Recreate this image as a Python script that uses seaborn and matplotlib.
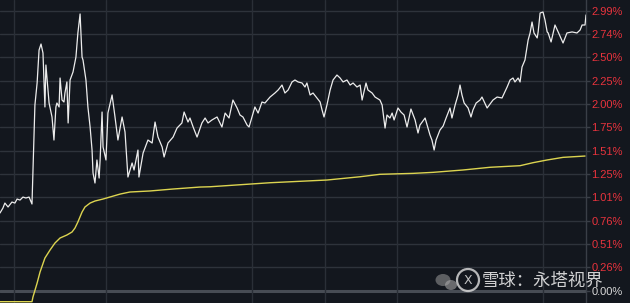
import matplotlib
matplotlib.use("Agg")
import matplotlib.pyplot as plt
from matplotlib.patches import Ellipse
import numpy as np
import pandas as pd
import seaborn as sns

# ---- data (minutes since chart start, % change) ----
price_t = [0, 1.2, 2.0, 3.3, 4.9, 6.1, 7.0, 8.2, 9.4, 10.6, 11.9, 13.1, 13.9, 14.3, 15.2, 16.0,
           16.8, 17.6, 18.0, 18.4, 18.8, 19.3, 20.1, 21.3, 22.1, 22.9, 23.3, 24.2, 24.6, 25.4,
           26.2, 26.6, 27.4, 27.9, 28.7, 29.9, 31.1, 31.9, 32.8, 33.6, 34.0, 35.2, 36.0, 36.9,
           37.7, 38.1, 38.9, 39.7, 40.6, 41.0, 41.8, 42.2, 43.4, 44.2, 45.9, 47.1, 48.3, 50.0,
           51.2, 52.4, 54.1, 54.9, 56.5, 56.9, 58.6, 60.6, 62.3, 63.5, 64.7, 66.4, 67.2, 68.8,
           70.9, 72.5, 74.5, 75.4, 77.0, 77.8, 79.1, 80.7, 82.7, 84.0, 85.2, 86.8, 88.9, 90.9,
           92.2, 93.8, 95.4, 97.1, 98.3, 99.5, 101.2, 102.0, 103.2, 104.4, 105.7, 107.3, 108.5,
           110.6, 112.6, 113.9, 115.5, 116.7, 118.0, 119.6, 120.8, 122.1, 123.7, 124.9, 125.7,
           127.0, 128.2, 129.8, 131.1, 131.9, 132.7, 133.9, 135.2, 136.4, 138.0, 139.3, 140.5,
           142.1, 143.4, 144.6, 146.2, 147.5, 148.3, 149.9, 150.7, 152.4, 153.6, 155.6, 156.5,
           157.7, 158.5, 159.7, 160.6, 161.4, 163.0, 164.2, 165.5, 166.7, 168.3, 170.0, 171.2,
           172.0, 172.9, 174.1, 175.3, 176.1, 176.9, 177.8, 178.6, 179.4, 180.2, 181.5, 182.7,
           184.3, 185.1, 186.4, 187.6, 188.4, 189.2, 190.1, 191.7, 192.9, 193.7, 195.0, 196.6,
           197.4, 199.5, 201.9, 203.6, 205.6, 207.7, 208.9, 210.1, 210.9, 212.2, 213.0, 213.8,
           215.0, 216.3, 217.1, 217.9, 218.7, 220.0, 220.4, 221.2, 222.4, 223.2, 224.1, 224.5,
           225.7, 227.3, 228.6, 230.6, 232.2, 234.3, 236.3, 237.6, 238.4, 239.6, 240.0]
price_pct = [0.830, 0.883, 0.936, 0.894, 0.947, 0.936, 0.979, 0.968, 1.000, 0.990, 1.000, 0.926,
             1.609, 1.983, 2.218, 2.570, 2.634, 2.538, 2.250, 1.962, 2.410, 2.250, 2.004, 1.855,
             1.609, 1.962, 2.004, 1.962, 2.271, 2.036, 2.015, 2.111, 2.229, 1.791, 2.250, 2.335,
             2.495, 2.752, 2.955, 2.495, 2.463, 2.250, 1.962, 1.748, 1.502, 1.257, 1.150, 1.396,
             1.203, 1.396, 1.908, 1.535, 1.396, 1.897, 2.090, 1.855, 1.609, 1.855, 1.695, 1.214,
             1.364, 1.289, 1.502, 1.214, 1.470, 1.609, 1.577, 1.801, 1.641, 1.535, 1.428, 1.577,
             1.641, 1.737, 1.791, 1.908, 1.801, 1.844, 1.748, 1.641, 1.791, 1.844, 1.791, 1.823,
             1.855, 1.748, 1.897, 1.844, 2.036, 1.951, 1.876, 1.855, 1.769, 1.748, 1.855, 1.962,
             1.897, 2.015, 2.004, 2.068, 2.111, 2.143, 2.196, 2.111, 2.143, 2.229, 2.250, 2.229,
             2.218, 2.175, 2.218, 2.090, 2.111, 2.058, 2.015, 1.930, 1.855, 1.983, 2.143, 2.250,
             2.303, 2.271, 2.229, 2.250, 2.196, 2.218, 2.175, 2.196, 2.036, 2.218, 2.143, 2.111,
             2.068, 2.036, 1.983, 1.737, 1.876, 1.844, 1.897, 1.823, 1.951, 1.908, 1.876, 1.748,
             1.940, 1.823, 1.684, 1.769, 1.801, 1.844, 1.737, 1.663, 1.609, 1.502, 1.609, 1.663,
             1.716, 1.759, 1.844, 1.951, 1.844, 1.983, 2.090, 2.196, 2.090, 2.004, 1.951, 1.855,
             1.930, 2.004, 2.036, 2.068, 1.951, 2.036, 2.068, 2.058, 2.175, 2.250, 2.271, 2.229,
             2.271, 2.229, 2.389, 2.463, 2.677, 2.752, 2.869, 2.752, 2.699, 2.763, 2.965, 2.976,
             2.891, 2.763, 2.752, 2.656, 2.837, 2.763, 2.645, 2.752, 2.763, 2.752, 2.784, 2.837,
             2.837, 2.944]

avg_t = [0, 13.1, 13.5, 15.2, 16.4, 18.4, 20.5, 22.5, 24.6, 27.4, 29.5, 30.7, 31.9, 33.6, 34.8,
         36.9, 38.9, 42.2, 45.1, 49.2, 53.2, 61.4, 70.9, 81.9, 86.0, 110.6, 133.9, 147.5, 155.6,
         169.2, 177.4, 189.6, 200.7, 213.0, 218.3, 224.1, 230.6, 239.6]
avg_pct = [-0.117, -0.117, -0.067, 0.082, 0.200, 0.349, 0.435, 0.509, 0.563, 0.595, 0.627, 0.669,
           0.734, 0.840, 0.894, 0.936, 0.958, 0.979, 1.001, 1.032, 1.054, 1.065, 1.086, 1.107,
           1.110, 1.153, 1.182, 1.217, 1.243, 1.253, 1.264, 1.289, 1.318, 1.335, 1.367, 1.396,
           1.424, 1.438]

tick_labels = ["0.00%", "0.26%", "0.51%", "0.76%", "1.01%", "1.25%", "1.51%", "1.75%",
               "2.00%", "2.25%", "2.50%", "2.74%", "2.99%"]
tick_top = 2.99
vgrid_t = [5.7, 43.4, 103.2, 133.1, 162.6, 222.4]

# ---- style ----
BG = "#13171e"
sns.set_style("dark", {"axes.facecolor": BG, "figure.facecolor": BG})
plt.rcParams["font.family"] = ["Liberation Sans", "DejaVu Sans"]

fig = plt.figure(figsize=(6.3, 3.03), dpi=100)
ax = fig.add_axes([0, 0, 586 / 630, 1])
ax.set_facecolor(BG)

tick_vals = [tick_top * k / 12 for k in range(13)]
for k, v in enumerate(tick_vals):
    if k == 0:
        ax.axhline(v, color="#474c54", lw=2.2, zorder=1)
    else:
        ax.axhline(v, color="#2e333b", lw=1.0, zorder=1)
for t in vgrid_t:
    ax.axvline(t, color="#2a2f37", lw=1.0, zorder=1)

df_p = pd.DataFrame({"t": price_t, "pct": price_pct})
df_a = pd.DataFrame({"t": avg_t, "pct": avg_pct})
sns.lineplot(data=df_a, x="t", y="pct", ax=ax, color="#dcd450", lw=1.0, zorder=3,
             estimator=None, sort=False)
sns.lineplot(data=df_p, x="t", y="pct", ax=ax, color="#ececec", lw=0.9, zorder=4,
             estimator=None, sort=False)

ax.set_xlim(0, 240)
ax.set_ylim(-0.131, 3.104)
ax.set_xlabel("")
ax.set_ylabel("")
ax.set_xticks([])
ax.yaxis.tick_right()
ax.set_yticks(tick_vals)
ax.set_yticklabels(tick_labels)
ax.tick_params(axis="y", which="both", right=True, length=3, width=1, color="#3a3f47",
               pad=1, labelsize=8)
for k, lab in enumerate(ax.get_yticklabels()):
    lab.set_color("#d8d8d8" if k == 0 else "#e8333d")
ax.grid(False)
for s in ["top", "left", "bottom"]:
    ax.spines[s].set_visible(False)
ax.spines["right"].set_color("#3a3f47")
ax.spines["right"].set_linewidth(1)

# ---- watermark ----
W, H = 630, 303
def fx(px): return px / W
def fy(py): return 1 - py / H
fig.patches.append(Ellipse((fx(443), fy(280)), 15 / W, 12 / H, transform=fig.transFigure,
                           facecolor="#9a9a9a", alpha=0.55, edgecolor="none"))
fig.patches.append(Ellipse((fx(451), fy(285)), 12 / W, 10 / H, transform=fig.transFigure,
                           facecolor="#b0b0b0", alpha=0.55, edgecolor="none"))
fig.patches.append(Ellipse((fx(468), fy(280)), 22 / W, 22 / H, transform=fig.transFigure,
                           facecolor="none", edgecolor="#e0e0e0", lw=1.6, alpha=0.8))
fig.text(fx(468), fy(281), "X", ha="center", va="center", fontsize=9, color="#e0e0e0",
         alpha=0.85, family=["DejaVu Sans"])
fig.text(fx(482), fy(281), "雪球：永塔视界", ha="left", va="center", fontsize=12.5,
         color="#f2f2f2", alpha=0.85, family=["Noto Sans CJK SC", "DejaVu Sans"])

fig.savefig("out.png", dpi=100, facecolor=BG)
